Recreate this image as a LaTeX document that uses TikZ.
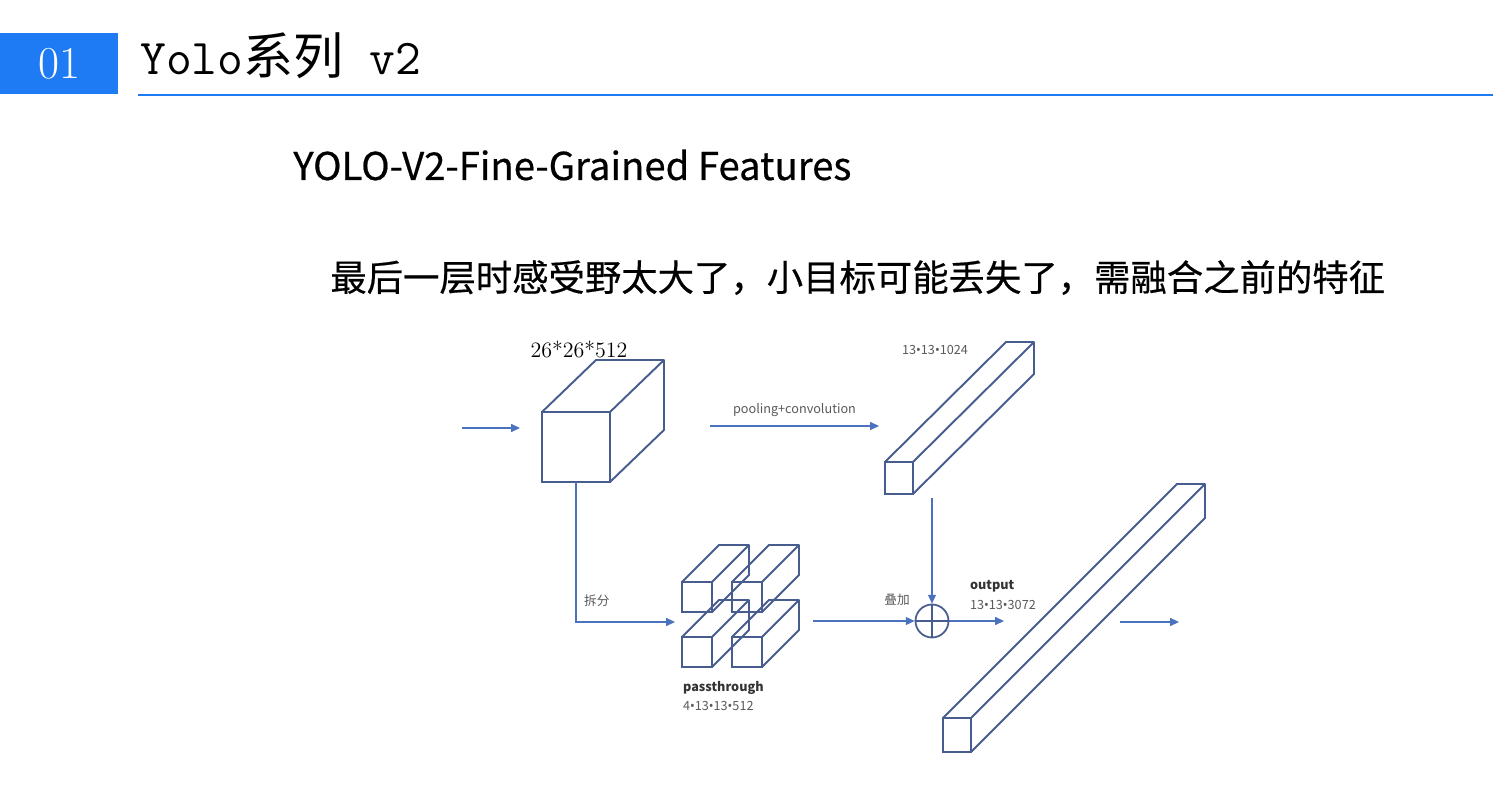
\documentclass[tikz,border=0pt]{standalone}
\usepackage{fontspec}
\newfontfamily\cjk{Noto Sans CJK SC}
\newfontfamily\cjkbold[FakeBold=0.5]{Noto Sans CJK SC}
\newfontfamily\dotfont{Noto Sans}
\newcommand{\bul}{{\dotfont •}}
\usetikzlibrary{arrows.meta,positioning,calc}
\definecolor{headblue}{HTML}{1E7BF4}
\definecolor{boxblue}{HTML}{475C8F}
\definecolor{arrblue}{HTML}{4B72BF}
\definecolor{labgray}{HTML}{5A5A5A}

% visible back edges of a bar whose front face is node #1, depth (#2,#3) in px
\newcommand{\barsides}[3]{%
  \draw[boxline] (#1.north west) -- ++(#2,-#3) -- ($(#1.north east)+(#2,-#3)$)
    -- ($(#1.south east)+(#2,-#3)$) -- (#1.south east)
    (#1.north east) -- ++(#2,-#3);}

\begin{document}
\begin{tikzpicture}[x=0.02cm, y=-0.02cm,
  face/.style={draw=boxblue, line width=1.1pt, inner sep=0pt, outer sep=0pt, anchor=north west},
  boxline/.style={draw=boxblue, line width=1.1pt, line join=round},
  arr/.style={-{Triangle[length=5pt,width=4.5pt]}, color=arrblue, line width=0.7pt},
  lab/.style={font=\cjk\fontsize{7.2}{9}\selectfont, text=labgray, inner sep=1pt},
  labhead/.style={lab, font=\cjk\bfseries\fontsize{7.2}{9}\selectfont, text=black!80},
  sumnode/.style={circle, draw=boxblue, line width=1pt, minimum size=0.66cm, inner sep=0pt}
]
\useasboundingbox[fill=white] (0,0) rectangle (1498,800);

% header
\node[fill=headblue, minimum width=2.36cm, minimum height=1.22cm, anchor=north west,
  text=white, font=\fontsize{26}{30}\selectfont, inner sep=0pt] (num) at (0,33) {01};
\node[anchor=base west, inner sep=0pt, font=\fontsize{28.5}{32}\selectfont] (title) at (140,75)
  {\ttfamily Yolo{\cjk 系列} v2};
\draw[headblue, line width=1.5pt] (138,95) -- (1493,95);

\node[anchor=base west, inner sep=0pt, font=\cjkbold\fontsize{21.8}{26}\selectfont] (sub) at (293,180)
  {YOLO-V2-Fine-Grained Features};
\node[anchor=base west, inner sep=0pt, font=\cjkbold\fontsize{20.7}{25}\selectfont] (note) at (330,291)
  {最后一层时感受野太大了，小目标可能丢失了，需融合之前的特征};

% feature maps
\node[face, minimum width=1.36cm, minimum height=1.40cm] (cube) at (542,412) {};
\barsides{cube}{54}{52}
\node[anchor=base, inner sep=0pt, font=\fontsize{12.5}{14}\selectfont] (cubelab) at (579,358) {26*26*512};

\node[face, minimum width=0.56cm, minimum height=0.64cm] (fmap) at (885,462) {};
\barsides{fmap}{121}{120}
\node[lab] (fmaplab) at (935,350) {13\bul13\bul1024};

\node[face, minimum width=0.6cm, minimum height=0.6cm] (pt1) at (682,582) {};
\barsides{pt1}{37}{37}
\node[face, minimum width=0.6cm, minimum height=0.6cm] (pt2) at (732,582) {};
\barsides{pt2}{37}{37}
\node[face, minimum width=0.6cm, minimum height=0.6cm] (pt3) at (682,637) {};
\barsides{pt3}{37}{37}
\node[face, minimum width=0.6cm, minimum height=0.6cm] (pt4) at (732,637) {};
\barsides{pt4}{37}{37}
\node[labhead, anchor=west] (ptname) at (681,688) {passthrough};
\node[lab, anchor=west] (ptsize) at (681,706) {4\bul13\bul13\bul512};

\node[face, minimum width=0.56cm, minimum height=0.68cm] (out) at (943,718) {};
\barsides{out}{234}{234}
\node[labhead, anchor=west] (outname) at (968,586) {output};
\node[lab, anchor=west] (outsize) at (968,605) {13\bul13\bul3072};

% add
\node[sumnode] (sum) at (932,621) {};
\draw[boxblue, line width=1pt] (sum.north) -- (sum.south) (sum.west) -- (sum.east);

% connectors
\coordinate (in0) at (462,428);
\coordinate (in1) at (520,428);
\coordinate (pc0) at (710,426);
\coordinate (pc1) at (879,426);
\coordinate (ptin) at (675,622);
\coordinate (ptout) at (813,621);
\coordinate (fdown) at (932,498);
\coordinate (sumout) at (1004,621);
\coordinate (res0) at (1120,622);
\coordinate (res1) at (1179,622);
\draw[arr] (in0) -- (in1);
\draw[arr] (pc0) -- node[lab, above=4pt] (pclab) {pooling+convolution} (pc1);
\draw[arr] (cube.south) |- (ptin);
\node[lab, anchor=west] (splitlab) at (582,601) {拆分};
\draw[arr] (ptout) -- (sum.west);
\node[lab] (addlab) at (897,600) {叠加};
\draw[arr] (fdown) -- (sum.north);
\draw[arr] (sum.east) -- (sumout);
\draw[arr] (res0) -- (res1);
\end{tikzpicture}
\end{document}
